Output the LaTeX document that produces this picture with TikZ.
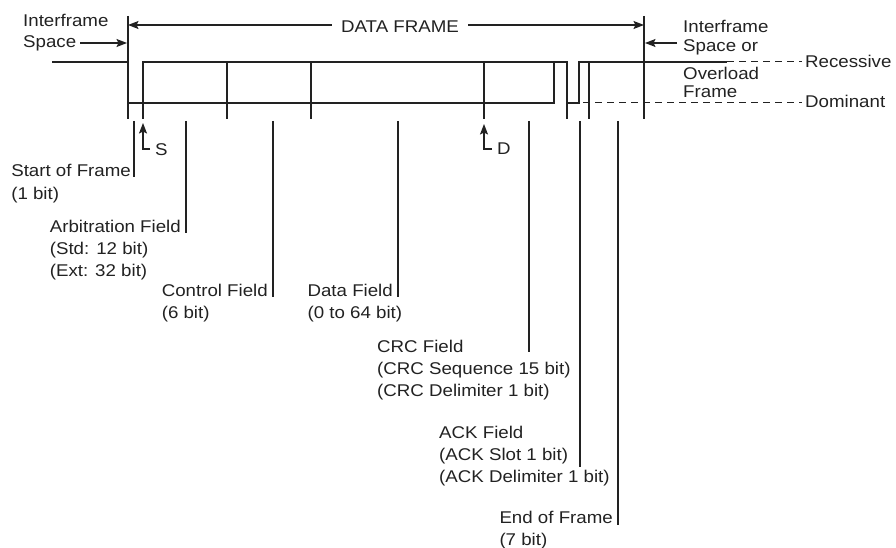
\documentclass[tikz,border=0pt]{standalone}
\usepackage{fontspec}
\setmainfont{Liberation Sans}[FakeStretch=1.1]
\usetikzlibrary{arrows.meta,calc}
\definecolor{ink}{HTML}{222222}
\begin{document}
\begin{tikzpicture}[x=1pt,y=-1pt,
  lbl/.style={font=\fontsize{17}{20}\selectfont, text=ink, inner sep=0pt, anchor=base west},
  lblr/.style={lbl, anchor=base east},
  wave/.style={draw=ink, line width=1.2pt},
  lead/.style={draw=ink, line width=1.2pt},
  tipend/.style={-{Stealth[length=10.5pt,width=8pt,inset=2pt]}},
  tipboth/.style={{Stealth[length=10.5pt,width=8pt,inset=2pt]}-{Stealth[length=10.5pt,width=8pt,inset=2pt]}},
  dashline/.style={draw=ink, line width=1pt, dash pattern=on 7pt off 5pt}]
\useasboundingbox (0,0) rectangle (896,548);

% frame boundaries
\coordinate (bLt) at (128,16); \coordinate (bLb) at (128,119);
\coordinate (bRt) at (644,16); \coordinate (bRb) at (644,119);
\draw[wave] (bLt) -- (bLb);
\draw[wave] (bRt) -- (bRb);

% DATA FRAME arrow
\coordinate (dfL) at (128,25); \coordinate (dfR) at (644,25);
\draw[wave,tipboth] (dfL) -- (dfR);
\node[lbl, anchor=base, fill=white, inner xsep=9pt] (df) at (400,33) {DATA FRAME};

% waveform
\coordinate (w0) at (52,62);   \coordinate (w1) at (128,62);
\draw[wave] (w0) -- (w1);
\coordinate (b0) at (128,103); \coordinate (b1) at (554,103); \coordinate (b2) at (554,62);
\draw[wave] (b0) -- (b1) -- (b2);
\coordinate (t0) at (143,119); \coordinate (t1) at (143,62); \coordinate (t2) at (567,62); \coordinate (t3) at (567,119);
\draw[wave] (t0) -- (t1) -- (t2) -- (t3);
\coordinate (a0) at (567,103); \coordinate (a1) at (579,103); \coordinate (a2) at (579,62); \coordinate (a3) at (727,62);
\draw[wave] (a0) -- (a1) -- (a2) -- (a3);
\coordinate (rec) at (802,62);
\draw[dashline] (a3) -- (rec);
\coordinate (d0) at (583,103); \coordinate (dom) at (802,103);
\draw[dashline] (d0) -- (dom);
\foreach \x/\n in {227/ac,311/cd,484/dc,589/ae}{
  \coordinate (f\n t) at (\x,62); \coordinate (f\n b) at (\x,119);
  \draw[wave] (f\n t) -- (f\n b);
}

% S and D markers
\coordinate (sH) at (150,149); \coordinate (sC) at (143,149); \coordinate (sT) at (143,123);
\draw[wave,tipend] (sH) -- (sC) -- (sT);
\node[lbl] (S) at (155,156) {S};
\coordinate (dH) at (492,149); \coordinate (dC) at (484,149); \coordinate (dT) at (484,124);
\draw[wave,tipend] (dH) -- (dC) -- (dT);
\node[lbl] (D) at (497,155) {D};

% left interframe label
\node[lbl] (ifsL1) at (23,27) {Interframe};
\node[lbl] (ifsL2) at (23,48) {Space};
\coordinate (ifsLa) at (80,43); \coordinate (ifsLb) at (127,43);
\draw[wave,tipend] (ifsLa) -- (ifsLb);

% right interframe label
\node[lbl] (ifsR1) at (683,33) {Interframe};
\node[lbl] (ifsR2) at (683,52) {Space or};
\node[lbl] (ofR1) at (683,80) {Overload};
\node[lbl] (ofR2) at (683,98) {Frame};
\coordinate (ifsRa) at (677,43); \coordinate (ifsRb) at (645,43);
\draw[wave,tipend] (ifsRa) -- (ifsRb);

\node[lbl] (recL) at (805,68) {Recessive};
\node[lbl] (domL) at (805,108) {Dominant};

% leaders
\foreach \x/\y/\n in {134/177/sof,186/233/arb,273/297/ctl,398/297/dat,529/352/crc,580/467/ack,618/525/eof}{
  \coordinate (l\n t) at (\x,121); \coordinate (l\n b) at (\x,\y);
  \draw[lead] (l\n t) -- (l\n b);
}

% field labels
\node[lblr] (sof1) at (131,177) {Start of Frame};
\node[lbl] (sof2) at ($(sof1.base west)+(0,22)$) {(1 bit)};

\node[lblr] (arb1) at (181,232) {Arbitration Field};
\node[lbl] (arb2) at ($(arb1.base west)+(0,22)$) {(Std: 12 bit)};
\node[lbl] (arb3) at ($(arb1.base west)+(0,44)$) {(Ext: 32 bit)};

\node[lblr] (ctl1) at (268,296) {Control Field};
\node[lbl] (ctl2) at ($(ctl1.base west)+(0,22)$) {(6 bit)};

\node[lblr] (dat1) at (393,296) {Data Field};
\node[lbl] (dat2) at ($(dat1.base west)+(0,22)$) {(0 to 64 bit)};

\node[lbl] (crc1) at (377,352) {CRC Field};
\node[lbl] (crc2) at ($(crc1.base west)+(0,22)$) {(CRC Sequence 15 bit)};
\node[lbl] (crc3) at ($(crc1.base west)+(0,44)$) {(CRC Delimiter 1 bit)};

\node[lbl] (ack1) at (439,438) {ACK Field};
\node[lbl] (ack2) at ($(ack1.base west)+(0,22)$) {(ACK Slot 1 bit)};
\node[lbl] (ack3) at ($(ack1.base west)+(0,44)$) {(ACK Delimiter 1 bit)};

\node[lblr] (eof1) at (613,523) {End of Frame};
\node[lbl] (eof2) at ($(eof1.base west)+(0,22)$) {(7 bit)};
\end{tikzpicture}
\end{document}
